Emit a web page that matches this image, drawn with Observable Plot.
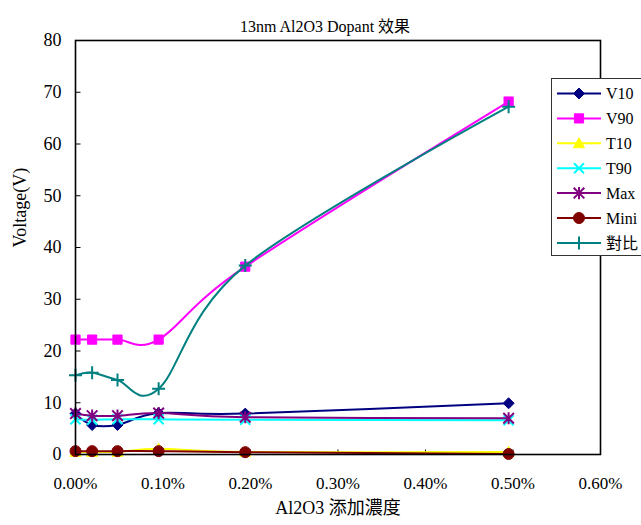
<!DOCTYPE html>
<html>
<head>
<meta charset="utf-8">
<script src="https://cdn.jsdelivr.net/npm/d3@7"></script>
<script src="https://cdn.jsdelivr.net/npm/@observablehq/plot@0.6"></script>
<style>
  html, body { margin: 0; padding: 0; background: #fff; }
  #wrap { position: relative; width: 641px; height: 525px; overflow: hidden; }
  #wrap svg, #wrap svg text { font-family: "Liberation Serif", "Times New Roman", "Noto Sans CJK TC", serif !important; }
  #legend { position: absolute; left: 0; top: 0; pointer-events: none; }
</style>
</head>
<body>
<div id="wrap"></div>
<script>
// Al2O3 dopant concentration (%) and measured voltages per series
const conc = [0, 0.019, 0.048, 0.095, 0.194, 0.495];
const v10 = [7.9, 5.7, 5.7, 8.0, 7.9, 9.9];
const v90 = [22.2, 22.2, 22.2, 22.2, 36.3, 68.2];
const t10 = [0.5, 0.5, 0.5, 1.1, 0.5, 0.5];
const t90 = [6.8, 6.7, 6.8, 6.8, 6.7, 6.6];
const maxV = [7.9, 7.5, 7.5, 8.0, 7.2, 7.0];
const mini = [0.65, 0.65, 0.65, 0.65, 0.45, 0.1];
const contrast = [15.3, 15.8, 14.4, 12.7, 36.5, 67.2];

const seriesNames = ["V10", "V90", "T10", "T90", "Max", "Mini", "對比"];
const seriesValues = [v10, v90, t10, t90, maxV, mini, contrast];
const xTicks = [0, 0.1, 0.2, 0.3, 0.4, 0.5, 0.6];
const yTicks = [0, 10, 20, 30, 40, 50, 60, 70, 80];

const titleText = "13nm Al2O3 Dopant 效果";
const xLabel = "Al2O3 添加濃度";
const yLabel = "Voltage(V)";

// marker shapes (size -> radius r)
const rad = s => Math.sqrt(s / Math.PI);
const diamond = { draw(c, s) { const r = rad(s); c.moveTo(0, -r); c.lineTo(r, 0); c.lineTo(0, r); c.lineTo(-r, 0); c.closePath(); } };
const square = { draw(c, s) { const r = rad(s); c.rect(-r, -r, 2 * r, 2 * r); } };
const triangle = { draw(c, s) { const r = rad(s); c.moveTo(0, -r); c.lineTo(r, r * 0.8); c.lineTo(-r, r * 0.8); c.closePath(); } };
const cross = { draw(c, s) { const r = rad(s); c.moveTo(-r, -r); c.lineTo(r, r); c.moveTo(r, -r); c.lineTo(-r, r); } };
const asterisk = { draw(c, s) { const r = rad(s); c.moveTo(-r, -r); c.lineTo(r, r); c.moveTo(r, -r); c.lineTo(-r, r); c.moveTo(0, -r * 1.15); c.lineTo(0, r * 1.15); } };
const circle = { draw(c, s) { const r = rad(s); c.moveTo(r, 0); c.arc(0, 0, r, 0, 2 * Math.PI); } };
const plus = { draw(c, s) { const r = rad(s); c.moveTo(-r, 0); c.lineTo(r, 0); c.moveTo(0, -r); c.lineTo(0, r); } };
const tickUp = { draw(c) { c.moveTo(0, 0); c.lineTo(0, -5); } };
const tickRight = { draw(c) { c.moveTo(0, 0); c.lineTo(5, 0); } };

const styles = [
  { color: "#000080", symbol: diamond, r: 5.5, filled: true },
  { color: "#FF00FF", symbol: square, r: 4.6, filled: true },
  { color: "#FFFF00", symbol: triangle, r: 5.5, filled: true },
  { color: "#00FFFF", symbol: cross, r: 5, filled: false },
  { color: "#800080", symbol: asterisk, r: 5.3, filled: false },
  { color: "#800000", symbol: circle, r: 5.5, filled: true },
  { color: "#008080", symbol: plus, r: 6.5, filled: false }
];

const rows = seriesNames.map((name, i) =>
  conc.map((x, j) => ({ series: name, x, y: seriesValues[i][j] }))
);

const seriesMarks = rows.flatMap((data, i) => {
  const st = styles[i];
  return [
    Plot.line(data, { x: "x", y: "y", stroke: st.color, strokeWidth: 2, curve: "cardinal" }),
    Plot.dot(data, st.filled
      ? { x: "x", y: "y", symbol: st.symbol, r: st.r, fill: st.color, stroke: st.color, strokeWidth: 1 }
      : { x: "x", y: "y", symbol: st.symbol, r: st.r, fill: "none", stroke: st.color, strokeWidth: 2 })
  ];
});

const pct = d => d.toFixed(2) + "%";

const chart = Plot.plot({
  width: 641,
  height: 525,
  marginLeft: 75,
  marginRight: 41,
  marginTop: 40,
  marginBottom: 71,
  style: { fontFamily: "'Liberation Serif', 'Times New Roman', serif", fontSize: "17px", color: "#000", background: "#fff" },
  x: { domain: [0, 0.6] },
  y: { domain: [0, 80] },
  marks: [
    Plot.axisX({ ticks: xTicks, tickSize: 0, tickPadding: 22, tickFormat: pct, label: null, fontSize: 17 }),
    Plot.axisY({ ticks: yTicks, tickSize: 0, tickPadding: 14, label: null, fontSize: 18 }),
    Plot.dot(xTicks, { x: d => d, frameAnchor: "bottom", symbol: tickUp, stroke: "#000", strokeWidth: 1 }),
    Plot.dot(yTicks, { y: d => d, frameAnchor: "left", symbol: tickRight, stroke: "#000", strokeWidth: 1 }),
    ...seriesMarks,
    Plot.frame({ stroke: "#000", strokeWidth: 1.6 }),
    Plot.text([titleText], { text: d => d, frameAnchor: "top", dy: -20, dx: -13, fontSize: 16 }),
    Plot.text([xLabel], { text: d => d, frameAnchor: "bottom", dy: 59, fontSize: 18 }),
    Plot.text([yLabel], { text: d => d, frameAnchor: "left", dx: -55, rotate: -90, fontSize: 18 })
  ]
});

const wrap = document.getElementById("wrap");
wrap.appendChild(chart);

// legend box on the right
const leg = d3.select(wrap).append("svg")
  .attr("id", "legend")
  .attr("width", 641)
  .attr("height", 525)
  .style("font-size", "16px");

const lx = 551.5, ly = 78.5, rowH = 24.9, firstRow = 93.5;
leg.append("rect")
  .attr("x", lx).attr("y", ly)
  .attr("width", 100).attr("height", 177)
  .attr("fill", "#fff").attr("stroke", "#333").attr("stroke-width", 1);

seriesNames.forEach((name, i) => {
  const st = styles[i];
  const y = firstRow + i * rowH;
  const g = leg.append("g");
  g.append("line")
    .attr("x1", 557).attr("x2", 601).attr("y1", y).attr("y2", y)
    .attr("stroke", st.color).attr("stroke-width", 2);
  g.append("path")
    .attr("transform", `translate(579,${y})`)
    .attr("d", d3.symbol(st.symbol, st.r * st.r * Math.PI)())
    .attr("fill", st.filled ? st.color : "none")
    .attr("stroke", st.color)
    .attr("stroke-width", st.filled ? 1 : 2);
  g.append("text")
    .attr("x", 606).attr("y", y).attr("dy", "0.35em")
    .attr("fill", "#000")
    .text(name);
});
</script>
</body>
</html>
